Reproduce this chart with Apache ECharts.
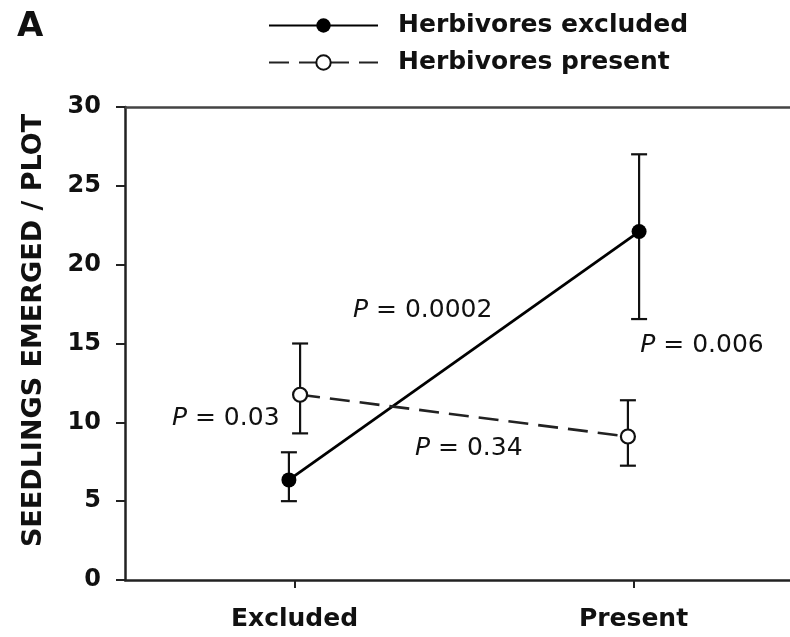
<!DOCTYPE html>
<html>
<head>
<meta charset="utf-8">
<script src="https://cdn.jsdelivr.net/npm/echarts@6/dist/echarts.min.js"></script>
<style>
  html, body { margin: 0; padding: 0; background: #fff; }
  #chart { width: 790px; height: 637px; }
</style>
</head>
<body>
<div id="chart"></div>
<script>
// categories on the x axis (placed at x = 1 and x = 3)
const categories = ['Excluded', 'Present']
const seriesNames = ['Herbivores excluded', 'Herbivores present']

// means and error bar ends
const excludedMean = [6.35, 22.1]
const excludedLow = [5.0, 16.55]
const excludedHigh = [8.1, 27.0]

const presentMean = [11.75, 9.1]
const presentLow = [9.3, 7.25]
const presentHigh = [15.0, 11.4]

const yTicks = [0, 5, 10, 15, 20, 25, 30]

// small horizontal dodge so the two series don't overlap
const DODGE = 0.033
const excludedDodge = [-1, 1]
const presentDodge = [1, -1]

const FONT = 'DejaVu Sans'
const INK = '#111'

const catX = i => i * 2 + 1

const build = (mean, dodge) => mean.map((v, i) => [catX(i) + dodge[i] * DODGE, v])
const buildErr = (low, high, dodge) =>
  low.map((l, i) => [catX(i) + dodge[i] * DODGE, l, high[i]])

const errorBar = (color) => ({
  type: 'custom',
  silent: true,
  z: 1,
  renderItem: (params, api) => {
    const x = api.value(0)
    const lo = api.coord([x, api.value(1)])
    const hi = api.coord([x, api.value(2)])
    const w = 8
    const style = { stroke: color, lineWidth: 2.2 }
    return {
      type: 'group',
      children: [
        { type: 'line', shape: { x1: lo[0], y1: lo[1], x2: hi[0], y2: hi[1] }, style },
        { type: 'line', shape: { x1: lo[0] - w, y1: lo[1], x2: lo[0] + w, y2: lo[1] }, style },
        { type: 'line', shape: { x1: hi[0] - w, y1: hi[1], x2: hi[0] + w, y2: hi[1] }, style },
      ],
    }
  },
  encode: { x: 0, y: [1, 2] },
})

// P-value notes, given in data coordinates
const notes = [
  { text: '0.0002', x: 1.345, y: 17.1 },
  { text: '0.006', x: 3.04, y: 14.9 },
  { text: '0.03', x: 0.277, y: 10.25 },
  { text: '0.34', x: 1.711, y: 8.35 },
]

const chart = echarts.init(document.getElementById('chart'))

const option = {
  animation: false,
  backgroundColor: '#fff',
  textStyle: { fontFamily: FONT, color: INK },
  // plot runs a little past the right edge of the picture
  grid: { left: 125, top: 107, bottom: 57, width: 678, outerBoundsMode: 'none', containLabel: false },
  legend: {
    orient: 'vertical',
    left: 263,
    top: 8,
    itemWidth: 109,
    itemHeight: 18,
    itemGap: 12,
    data: seriesNames,
    textStyle: {
      fontFamily: FONT,
      fontSize: 25,
      fontWeight: 'bold',
      color: INK,
      padding: [0, 0, 0, 15],
      lineHeight: 25,
    },
  },
  xAxis: [
    {
      type: 'value',
      min: 0,
      max: 4,
      splitLine: { show: false },
      axisLine: { lineStyle: { color: '#222', width: 2.5 } },
      axisTick: {
        show: true,
        customValues: [1, 3],
        length: 8,
        lineStyle: { color: '#222', width: 2 },
      },
      axisLabel: {
        customValues: [1, 3],
        formatter: v => categories[(v - 1) / 2] || '',
        fontFamily: FONT,
        fontSize: 25,
        fontWeight: 'bold',
        color: INK,
        margin: 27,
      },
    },
    {
      type: 'value',
      position: 'top',
      min: 0,
      max: 4,
      splitLine: { show: false },
      axisTick: { show: false },
      axisLabel: { show: false },
      axisLine: { show: true, lineStyle: { color: '#444', width: 2.5 } },
    },
  ],
  yAxis: {
    type: 'value',
    min: 0,
    max: 30,
    interval: 5,
    name: 'SEEDLINGS EMERGED / PLOT',
    nameLocation: 'middle',
    nameGap: 78,
    nameTextStyle: {
      fontFamily: FONT,
      fontSize: 27,
      fontWeight: 'bold',
      color: INK,
      padding: [0, 0, 0, 26],
    },
    splitLine: { show: false },
    axisLine: { show: true, lineStyle: { color: '#222', width: 2.5 } },
    axisTick: { show: true, length: 9, lineStyle: { color: '#222', width: 2 } },
    axisLabel: {
      fontFamily: FONT,
      fontSize: 24,
      fontWeight: 'bold',
      color: INK,
      margin: 24,
      formatter: v => (yTicks.includes(v) ? String(v) : ''),
    },
  },
  series: [
    {
      name: seriesNames[0],
      type: 'line',
      z: 3,
      data: build(excludedMean, excludedDodge),
      symbol: 'circle',
      symbolSize: 15,
      lineStyle: { color: '#000', width: 2.8 },
      itemStyle: { color: '#000', borderColor: '#000', borderWidth: 0 },
    },
    {
      name: seriesNames[1],
      type: 'line',
      z: 3,
      data: build(presentMean, presentDodge),
      symbol: 'circle',
      symbolSize: 14,
      lineStyle: { color: '#222', width: 2.6, type: [20, 10] },
      itemStyle: { color: '#fff', borderColor: '#111', borderWidth: 2.2 },
    },
    Object.assign(errorBar('#111'), { data: buildErr(excludedLow, excludedHigh, excludedDodge) }),
    Object.assign(errorBar('#111'), { data: buildErr(presentLow, presentHigh, presentDodge) }),
  ],
}

chart.setOption(option)

// panel letter and P-value notes
const graphics = [
  {
    type: 'text',
    left: 17,
    top: 10,
    style: { text: 'A', font: 'bold 34px "DejaVu Sans"', fill: INK },
  },
]
notes.forEach(n => {
  const p = chart.convertToPixel({ xAxisIndex: 0, yAxisIndex: 0 }, [n.x, n.y])
  graphics.push({
    type: 'text',
    x: p[0],
    y: p[1],
    style: {
      text: '{i|P} = ' + n.text,
      font: '25px "DejaVu Sans"',
      fill: INK,
      verticalAlign: 'middle',
      rich: { i: { fontStyle: 'italic', fontFamily: FONT, fontSize: 25, fill: INK } },
    },
  })
})
chart.setOption({ graphic: graphics })
</script>
</body>
</html>
